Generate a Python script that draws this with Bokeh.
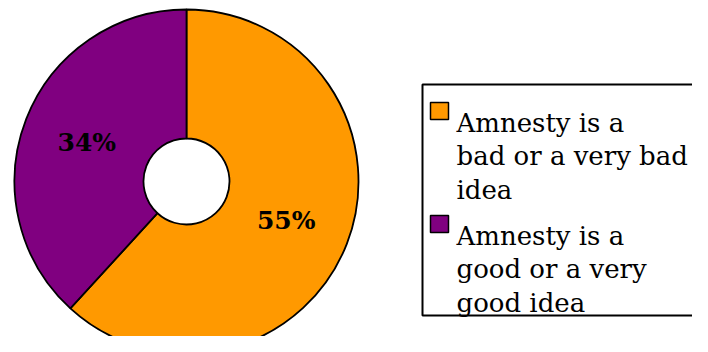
import math
from bokeh.plotting import figure
from bokeh.models import Range1d, ColumnDataSource
from bokeh.core.properties import value
from bokeh.embed import file_html
from bokeh.resources import INLINE

# ---- data ----
categories = ["Amnesty is a bad or a very bad idea", "Amnesty is a good or a very good idea"]
legend_lines = [["Amnesty is a", "bad or a very bad", "idea"],
                ["Amnesty is a", "good or a very", "good idea"]]
values = [55, 34]
colors = ["#FF9900", "#800080"]

W, H = 692, 336
IMG_H = 352

def fy(img_y):
    return IMG_H - img_y

p = figure(width=W, height=H, output_backend="svg", toolbar_location=None,
           x_range=Range1d(0, W), y_range=Range1d(IMG_H - H, IMG_H),
           min_border=0)
p.axis.visible = False
p.grid.visible = False
p.outline_line_color = None
p.background_fill_color = "white"
p.border_fill_color = "white"

# ---- donut ----
cx, cy = 186, fy(181)
total = sum(values)
starts, ends, mids = [], [], []
a = math.pi / 2
for v in values:
    sweep = v / total * 2 * math.pi
    starts.append(a)
    ends.append(a - sweep)
    mids.append(a - sweep / 2)
    a -= sweep

src = ColumnDataSource(dict(start=starts, end=ends, color=colors, cat=categories))
p.annular_wedge(x=cx, y=cy, inner_radius=43, outer_radius=172,
                inner_radius_units="screen", outer_radius_units="screen",
                start_angle="start", end_angle="end", direction="clock",
                fill_color="color", line_color="black", line_width=1.8, source=src)

lab_r = 107
lx = [cx + lab_r * math.cos(m) for m in mids]
ly = [cy + lab_r * math.sin(m) for m in mids]
p.text(x=lx, y=ly, text=[f"{v}%" for v in values], text_font=value("DejaVu Serif"),
       text_font_style="bold", text_font_size="25px", text_align="center",
       text_baseline="middle", text_color="black")

# ---- legend ----
p.quad(left=422, right=730, top=fy(84), bottom=fy(315), fill_color="white",
       line_color="black", line_width=2)

swatch_tops = [102, 215]
first_baselines = [122, 235]
line_gap = 33.5
sw_t, sw_b = [], []
tx, ty, tt = [], [], []
for i, lines in enumerate(legend_lines):
    t = swatch_tops[i]
    sw_t.append(fy(t))
    sw_b.append(fy(t + 17))
    for j, ln in enumerate(lines):
        tx.append(456)
        ty.append(fy(first_baselines[i] + j * line_gap))
        tt.append(ln)
p.quad(left=430, right=448, top=sw_t, bottom=sw_b, fill_color=colors,
       line_color="black", line_width=1.5)
p.text(x=tx, y=ty, text=tt, text_font=value("DejaVu Serif"), text_font_size="26px",
       text_align="left", text_baseline="alphabetic", text_color="black")

open("out.html", "w").write(file_html(p, INLINE))
